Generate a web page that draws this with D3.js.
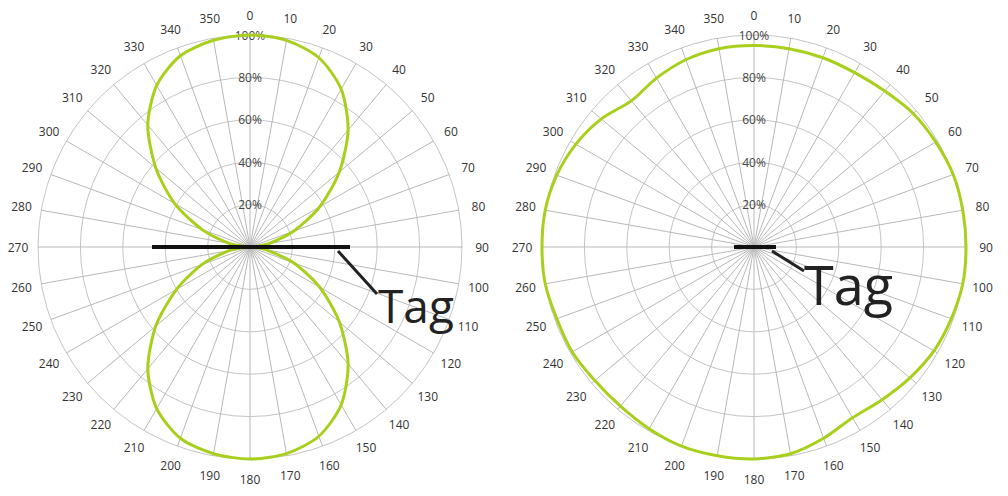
<!DOCTYPE html><html><head><meta charset="utf-8">
<script src="https://cdn.jsdelivr.net/npm/d3@7"></script>
<style>body{margin:0;background:#fff}</style></head><body>
<svg id="c" width="1008" height="496"></svg>
<script>
const angles = d3.range(0, 360, 10);
const rTicks = [20, 40, 60, 80, 100];
const tickLabels = ["20%", "40%", "60%", "80%", "100%"];
const leftValues = [100,99,95,86,72,55,38,22,9,2,8,22,38,55,72,86,95,99,100,99,96,88,75,58,40,24,10,2,10,24,41,58,75,88,96,99];
const rightValues = [95,95,95,95,96,98,99,100,100,100,100,99,98,96,94,93,96,99,100,100,100,99,98,98,99,99,100,100,100,99,97,94,90,92,94,95];
const svg = d3.select("#c");
function chart(cx, cy, vals, tag) {
  const R = 212;
  const r = d3.scaleLinear().domain([0, 100]).range([0, R]);
  const g = svg.append("g").attr("transform", `translate(${cx},${cy})`);
  const rad = a => (a - 90) * Math.PI / 180;
  g.selectAll("circle.g").data(rTicks).join("circle").attr("r", d => r(d))
    .attr("fill", "none").attr("stroke", "#c4c4c4").attr("stroke-width", 1);
  g.selectAll("line.s").data(angles).join("line")
    .attr("x2", a => R * Math.cos(rad(a))).attr("y2", a => R * Math.sin(rad(a)))
    .attr("stroke", "#b8b8b8").attr("stroke-width", 1);
  g.selectAll("text.a").data(angles).join("text")
    .attr("x", a => (R + 20) * Math.cos(rad(a))).attr("y", a => (R + 20) * Math.sin(rad(a)))
    .attr("text-anchor", "middle").attr("dominant-baseline", "central")
    .attr("font-family", "Open Sans, sans-serif").attr("font-size", 12).attr("fill", "#333")
    .text(a => a);
  g.selectAll("text.p").data(rTicks).join("text")
    .attr("x", 0).attr("y", d => -r(d)).attr("text-anchor", "middle").attr("dominant-baseline", "central")
    .attr("font-family", "Open Sans, sans-serif").attr("font-size", 12).attr("fill", "#444")
    .text((d, i) => tickLabels[i]);
  const line = d3.lineRadial().angle((d, i) => angles[i] * Math.PI / 180).radius(d => r(d))
    .curve(d3.curveCardinalClosed.tension(0.2));
  g.append("path").attr("d", line(vals)).attr("fill", "none").attr("stroke", "#a8cf1c").attr("stroke-width", 3);
  g.append("line").attr("x1", tag.x1).attr("x2", tag.x2).attr("y1", 0).attr("y2", 0).attr("stroke", "#111").attr("stroke-width", 4);
  g.append("line").attr("x1", tag.lx1).attr("y1", tag.ly1).attr("x2", tag.lx2).attr("y2", tag.ly2).attr("stroke", "#222").attr("stroke-width", 3);
  g.append("text").attr("x", tag.tx).attr("y", tag.ty).attr("font-family", "Open Sans, sans-serif")
    .attr("font-size", tag.fs).attr("fill", "#222").text("Tag");
}
chart(250, 247, leftValues, {x1:-98,x2:100,lx1:88,ly1:4,lx2:127,ly2:47,tx:128,ty:76,fs:46});
chart(754, 247, rightValues, {x1:-20,x2:22,lx1:18,ly1:4,lx2:50,ly2:24,tx:50,ty:58,fs:54});
</script></body></html>
